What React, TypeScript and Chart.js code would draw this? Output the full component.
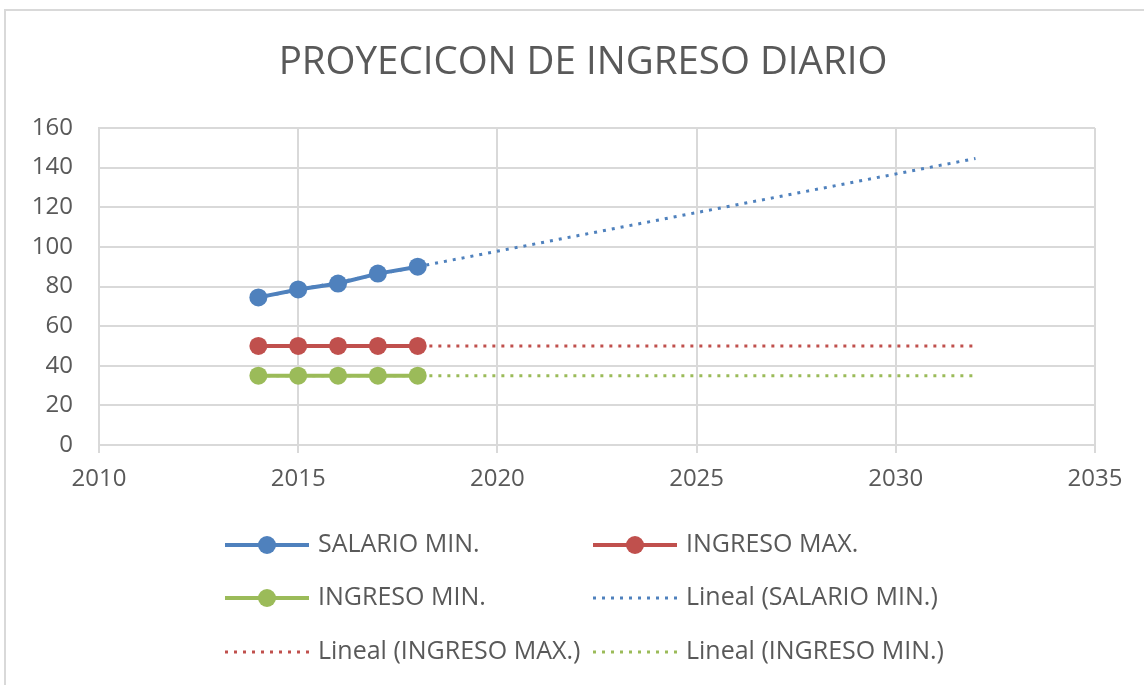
import React, { useEffect, useRef } from "react";
import { Chart, registerables } from "chart.js";

Chart.register(...registerables);

// ---- data ----
const TITLE = "PROYECICON DE INGRESO DIARIO";
const YEARS = [2014, 2015, 2016, 2017, 2018];
const SALARIO_MIN = [74.5, 78.5, 81.5, 86.5, 90];
const INGRESO_MAX = [50, 50, 50, 50, 50];
const INGRESO_MIN = [35, 35, 35, 35, 35];
const SERIES_NAMES = ["SALARIO MIN.", "INGRESO MAX.", "INGRESO MIN."];
const TREND_PREFIX = "Lineal";
const TREND_END_YEAR = 2032;
const X_MIN = 2010;
const X_MAX = 2035;
const X_STEP = 5;
const Y_MIN = 0;
const Y_MAX = 160;
const Y_STEP = 20;

// ---- style ----
const COLORS = ["#4f81bd", "#c0504d", "#9bbb59"];
const TEXT_COLOR = "#595959";
const GRID_COLOR = "#d9d9d9";
const FONT = "'Open Sans', 'Liberation Sans', sans-serif";

function linearFit(xs: number[], ys: number[]) {
  const n = xs.length;
  const mx = xs.reduce((a, b) => a + b, 0) / n;
  const my = ys.reduce((a, b) => a + b, 0) / n;
  let sxy = 0;
  let sxx = 0;
  for (let i = 0; i < n; i++) {
    sxy += (xs[i] - mx) * (ys[i] - my);
    sxx += (xs[i] - mx) * (xs[i] - mx);
  }
  const slope = sxx === 0 ? 0 : sxy / sxx;
  const intercept = my - slope * mx;
  return (x: number) => intercept + slope * x;
}

const framePlugin = {
  id: "frame",
  beforeDraw(chart: any) {
    const ctx = chart.ctx;
    ctx.save();
    ctx.fillStyle = "#ffffff";
    ctx.fillRect(0, 0, chart.width, chart.height);
    ctx.strokeStyle = GRID_COLOR;
    ctx.lineWidth = 2;
    ctx.strokeRect(5, 10, chart.width + 50, chart.height + 50);
    // chart title (centred on the whole chart object, like the original)
    ctx.fillStyle = TEXT_COLOR;
    ctx.font = `38.5px ${FONT}`;
    ctx.textAlign = "center";
    ctx.textBaseline = "middle";
    ctx.fillText(TITLE, 583, 63);
    ctx.restore();
  },
};

const gridLegendPlugin = {
  id: "gridLegend",
  afterDraw(chart: any) {
    const ctx = chart.ctx;
    const cols = [225, 593];
    const rows = [545, 598, 652];
    const sampleW = 84;
    chart.data.datasets.forEach((ds: any, i: number) => {
      const col = i % 2;
      const row = Math.floor(i / 2);
      const x0 = cols[col];
      const y = rows[row];
      ctx.save();
      ctx.strokeStyle = ds.borderColor;
      ctx.lineWidth = ds.borderWidth;
      ctx.setLineDash(ds.borderDash || []);
      ctx.beginPath();
      ctx.moveTo(x0, y);
      ctx.lineTo(x0 + sampleW, y);
      ctx.stroke();
      if (ds.pointRadius > 0) {
        ctx.setLineDash([]);
        ctx.fillStyle = ds.pointBackgroundColor;
        ctx.beginPath();
        ctx.arc(x0 + sampleW / 2, y, 9, 0, Math.PI * 2);
        ctx.fill();
      }
      ctx.fillStyle = TEXT_COLOR;
      ctx.font = `25px ${FONT}`;
      ctx.textAlign = "left";
      ctx.textBaseline = "middle";
      ctx.fillText(ds.label, x0 + sampleW + 9, y);
      ctx.restore();
    });
  },
};

export default function App() {
  const canvasRef = useRef<HTMLCanvasElement | null>(null);

  useEffect(() => {
    if (!canvasRef.current) return;
    const seriesValues = [SALARIO_MIN, INGRESO_MAX, INGRESO_MIN];

    const mainSets = seriesValues.map((vals, i) => ({
      label: SERIES_NAMES[i],
      data: YEARS.map((x, j) => ({ x, y: vals[j] })),
      showLine: true,
      borderColor: COLORS[i],
      backgroundColor: COLORS[i],
      pointBackgroundColor: COLORS[i],
      pointBorderColor: COLORS[i],
      borderWidth: 4,
      pointRadius: 9,
      pointBorderWidth: 0,
      order: 0,
    }));

    const trendSets = seriesValues.map((vals, i) => {
      const f = linearFit(YEARS, vals);
      const xs = [YEARS[0], TREND_END_YEAR];
      return {
        label: `${TREND_PREFIX} (${SERIES_NAMES[i]})`,
        data: xs.map((x) => ({ x, y: f(x) })),
        showLine: true,
        borderColor: COLORS[i],
        backgroundColor: COLORS[i],
        pointBackgroundColor: COLORS[i],
        borderWidth: 3,
        borderDash: [3, 6],
        pointRadius: 0,
        order: 1,
      };
    });

    // legend order: row-major in 2 columns
    const datasets = [
      mainSets[0],
      mainSets[1],
      mainSets[2],
      trendSets[0],
      trendSets[1],
      trendSets[2],
    ];

    const chart = new Chart(canvasRef.current, {
      type: "scatter",
      data: { datasets } as any,
      plugins: [framePlugin, gridLegendPlugin],
      options: {
        animation: false,
        responsive: true,
        maintainAspectRatio: false,
        layout: { padding: { left: 0, right: 49, top: 128, bottom: 0 } },
        plugins: {
          legend: { display: false },
          tooltip: { enabled: false },
          title: { display: false },
        },
        scales: {
          x: {
            type: "linear",
            min: X_MIN,
            max: X_MAX,
            ticks: {
              stepSize: X_STEP,
              callback: (v: any) => String(v),
              color: TEXT_COLOR,
              font: { family: FONT, size: 24 },
              padding: 12,
              maxRotation: 0,
              autoSkip: false,
            },
            grid: {
              color: GRID_COLOR,
              lineWidth: 2,
              drawTicks: true,
              tickLength: 8,
            },
            border: { color: GRID_COLOR, width: 2 },
            afterFit: (s: any) => {
              s.height = 240;
            },
          },
          y: {
            type: "linear",
            min: Y_MIN,
            max: Y_MAX,
            ticks: {
              stepSize: Y_STEP,
              color: TEXT_COLOR,
              font: { family: FONT, size: 24 },
              padding: 26,
            },
            grid: {
              color: GRID_COLOR,
              lineWidth: 2,
              drawTicks: false,
            },
            border: { color: GRID_COLOR, width: 2 },
            afterFit: (s: any) => {
              s.width = 99;
            },
          },
        },
      } as any,
    });

    return () => chart.destroy();
  }, []);

  return (
    <div
      style={{
        position: "fixed",
        left: 0,
        top: 0,
        width: 1144,
        height: 685,
        background: "#ffffff",
      }}
    >
      <canvas ref={canvasRef} />
    </div>
  );
}
